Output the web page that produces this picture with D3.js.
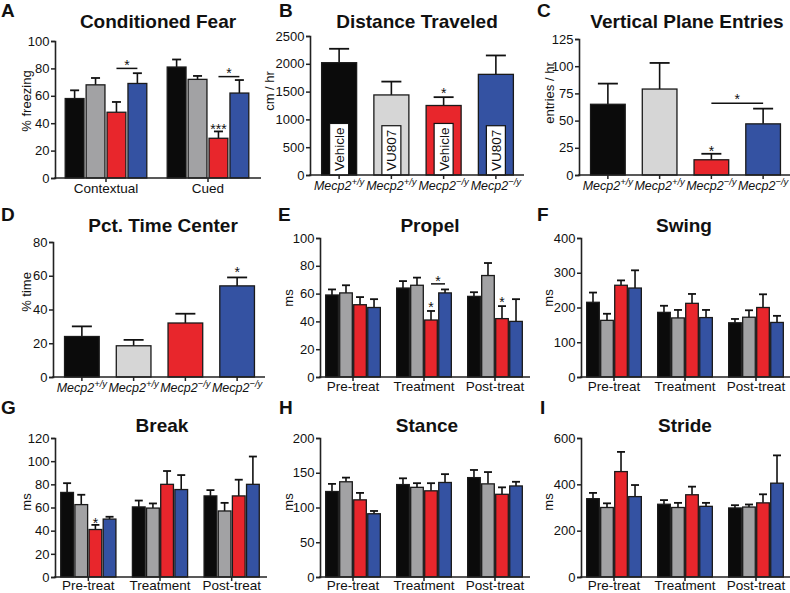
<!DOCTYPE html>
<html><head><meta charset="utf-8">
<script src="https://cdn.jsdelivr.net/npm/d3@7"></script>
<style>body{margin:0;background:#fff} text{font-family:"Liberation Sans",Arial,sans-serif;fill:#111}</style>
</head><body><svg id="c" width="790" height="593"></svg>
<script>
// ---------------- DATA ----------------
const fearGroups = ["Contextual","Cued"];
const fearMean = [[58,68,48,69],[81,72,29,62]];
const fearErr  = [[6,5,7.5,7.5],[5.5,2.5,5,9.5]];
const fearTicks = [0,20,40,60,80,100];

const genotypes = ["+/y","+/y","-/y","-/y"];
const treatments = ["Vehicle","VU807","Vehicle","VU807"];
const distMean = [2020,1440,1250,1810];
const distErr  = [250,240,150,340];
const distTicks = [0,500,1000,1500,2000,2500];
const vertMean = [65,79,14,47];
const vertErr  = [19,24,5.5,14];
const vertTicks = [0,25,50,75,100,125];
const centerMean = [24,18.5,32,54];
const centerErr  = [6,3.5,5.5,5];
const centerTicks = [0,20,40,60,80];

const phases = ["Pre-treat","Treatment","Post-treat"];
const propelMean = [[59,60.5,52,50],[64,66,41,60.5],[58,73,42,40]];
const propelErr  = [[4,5.5,5.5,6],[5,5.5,6.5,2.5],[3,9,9,16]];
const propelTicks = [0,20,40,60,80,100];
const swingMean = [[215,163,264,256],[186,170,212,171],[156,172,200,157]];
const swingErr  = [[28,19,14,51],[19,23,27,22],[11,20,38,19]];
const swingTicks = [0,100,200,300,400];
const breakMean = [[73,62.5,41,50],[60.5,59.5,80,75.5],[70,57,70,80]];
const breakErr  = [[8,8.5,4,2],[5.5,4,11.5,12.5],[5,7,14,24]];
const breakTicks = [0,20,40,60,80,100,120];
const stanceMean = [[123,137,111,91],[133,129,124,136],[143,134,119,131]];
const stanceErr  = [[11,6,10,4],[9,6,11,12],[11,17,10,6]];
const stanceTicks = [0,50,100,150,200];
const strideMean = [[338,300,455,347],[314,300,355,305],[298,302,320,405]];
const strideErr  = [[25,18,85,50],[18,20,35,15],[12,11,37,120]];
const strideTicks = [0,200,400,600];

// significance marks
const fearStars = [[1,2,38,"***"]];
const fearBrackets = [[0,2,3,80,"*"],[1,2,3,74,"*"]];
const distStars = [[2,1530,"*"]];
const vertStars = [[2,25,"*"]];
const vertBrackets = [[2,3,66,"*"]];
const centerStars = [[3,64,"*"]];
const propelStars = [[1,2,52,"*"],[2,2,56,"*"]];
const propelBrackets = [[1,2,3,67,"*"]];
const breakStars = [[0,2,49,"*"]];

// ---------------- STYLE ----------------
const colGrouped = ["#0b0b0b","#a2a2a4","#e8262c","#3452a2"];
const colSingle  = ["#0b0b0b","#d6d6d6","#e8262c","#3452a2"];
const svg = d3.select("#c");

function yAxis(g, y, ticks, x0){
  const ax = g.append("g").attr("transform",`translate(${x0},0)`)
    .call(d3.axisLeft(y).tickValues(ticks).tickSize(4).tickPadding(1.5).tickFormat(d3.format("d")));
  ax.select(".domain").attr("stroke","#222").attr("stroke-width",1.6);
  ax.selectAll(".tick line").attr("stroke","#222").attr("stroke-width",1.5);
  ax.selectAll(".tick text").attr("font-size",13).attr("fill","#222")
    .style("font-family",'"Liberation Sans",Arial,sans-serif');
}
function xLine(g, x0, x1, yb){
  g.append("line").attr("x1",x0-0.8).attr("x2",x1).attr("y1",yb).attr("y2",yb)
    .attr("stroke","#222").attr("stroke-width",1.6);
}
function texts(g, cfg){
  g.append("text").attr("x",cfg.letter[0]).attr("y",cfg.letter[1]).text(cfg.letterText)
    .attr("font-size",19).attr("font-weight","bold");
  g.append("text").attr("x",cfg.title[0]).attr("y",cfg.title[1]).attr("text-anchor","middle")
    .text(cfg.titleText).attr("font-size",19).attr("font-weight","bold");
  g.append("text").attr("transform",`translate(${cfg.ylab[0]},${cfg.ylab[1]}) rotate(-90)`)
    .attr("text-anchor","middle").attr("dominant-baseline","central")
    .text(cfg.ylabText).attr("font-size",13);
}
function bar(g, x, w, y, v, e, col, capW){
  g.append("line").attr("x1",x+w/2).attr("x2",x+w/2).attr("y1",y(v)).attr("y2",y(v+e))
    .attr("stroke","#111").attr("stroke-width",1.6);
  g.append("line").attr("x1",x+w/2-capW/2).attr("x2",x+w/2+capW/2).attr("y1",y(v+e)).attr("y2",y(v+e))
    .attr("stroke","#111").attr("stroke-width",1.8);
  g.append("rect").attr("x",x).attr("y",y(v)).attr("width",w).attr("height",y(0)-y(v))
    .attr("fill",col).attr("stroke","#1a1a1a").attr("stroke-width",1.3);
}
function star(g, x, yy, label, fs){
  g.append("text").attr("x",x).attr("y",yy+0.55*fs).attr("text-anchor","middle")
    .attr("font-size",fs).text(label);
}

function grouped(cfg, groups, means, errs, ticks, stars, brackets){
  const g = svg.append("g");
  const y = d3.scaleLinear().domain([0,ticks[ticks.length-1]]).range([cfg.yb,cfg.yt]);
  const x0 = d3.scaleBand().domain(groups).range([cfg.xl,cfg.xr]).paddingInner(cfg.pi).paddingOuter(cfg.po);
  const x1 = d3.scaleBand().domain([0,1,2,3]).range([0,x0.bandwidth()]).paddingInner(0.1);
  groups.forEach((gr,i)=>{
    means[i].forEach((m,j)=>{
      bar(g, x0(gr)+x1(j), x1.bandwidth(), y, m, errs[i][j], colGrouped[j], cfg.cap);
    });
    g.append("text").attr("x",x0(gr)+x0.bandwidth()/2).attr("y",cfg.yb+cfg.lab)
      .attr("text-anchor","middle").attr("font-size",13.5).text(gr);
    g.append("line").attr("x1",x0(gr)+x0.bandwidth()/2).attr("x2",x0(gr)+x0.bandwidth()/2)
      .attr("y1",cfg.yb).attr("y2",cfg.yb+4).attr("stroke","#222").attr("stroke-width",1.5);
  });
  xLine(g, cfg.xl, cfg.xr+2, cfg.yb);
  yAxis(g, y, ticks, cfg.xl);
  (stars||[]).forEach(([gi,bi,v,l])=>{
    star(g, x0(groups[gi])+x1(bi)+x1.bandwidth()/2, y(v), l, 14);
  });
  (brackets||[]).forEach(([gi,a,b,v,l])=>{
    const xa = x0(groups[gi])+x1(a)+x1.bandwidth()/2, xb = x0(groups[gi])+x1(b)+x1.bandwidth()/2;
    g.append("line").attr("x1",xa).attr("x2",xb).attr("y1",y(v)).attr("y2",y(v)).attr("stroke","#111").attr("stroke-width",1.5);
    star(g, (xa+xb)/2, y(v)-6, l, 14);
  });
  texts(g, cfg);
}

function single(cfg, means, errs, ticks, stars, brackets, inner){
  const g = svg.append("g");
  const y = d3.scaleLinear().domain([0,ticks[ticks.length-1]]).range([cfg.yb,cfg.yt]);
  const x = d3.scaleBand().domain([0,1,2,3]).range([cfg.xl+3,cfg.xr]).paddingInner(0.33).paddingOuter(0.165);
  means.forEach((m,j)=>{
    bar(g, x(j), x.bandwidth(), y, m, errs[j], colSingle[j], 20);
    const cx = x(j)+x.bandwidth()/2;
    g.append("line").attr("x1",cx).attr("x2",cx).attr("y1",cfg.yb).attr("y2",cfg.yb+4)
      .attr("stroke","#222").attr("stroke-width",1.5);
    const t = g.append("text").attr("x",cx).attr("y",cfg.yb+15).attr("text-anchor","middle")
      .attr("font-size",12.5).attr("font-style","italic");
    t.append("tspan").text("Mecp2");
    t.append("tspan").attr("dy",-5).attr("font-size",9.5).text(genotypes[j].replace("-","\u2212"));
    if(inner){
      const lab = g.append("g");
      const tx = lab.append("text").attr("font-size",13.5).text(inner[j])
        .attr("transform",`translate(${cx+5},${cfg.yb-4}) rotate(-90)`);
      const len = tx.node().getComputedTextLength();
      lab.insert("rect","text").attr("x",cx-9.5).attr("y",cfg.yb-len-8).attr("width",19)
        .attr("height",len+8).attr("fill","#fff").attr("stroke","#111").attr("stroke-width",1.2);
    }
  });
  xLine(g, cfg.xl, cfg.xr+2, cfg.yb);
  yAxis(g, y, ticks, cfg.xl);
  (stars||[]).forEach(([bi,v,l])=> star(g, x(bi)+x.bandwidth()/2, y(v), l, 14));
  (brackets||[]).forEach(([a,b,v,l])=>{
    const xa = x(a)+x.bandwidth()/2, xb = x(b)+x.bandwidth()/2;
    g.append("line").attr("x1",xa).attr("x2",xb).attr("y1",y(v)).attr("y2",y(v)).attr("stroke","#111").attr("stroke-width",1.5);
    star(g, (xa+xb)/2, y(v)-7, l, 14);
  });
  texts(g, cfg);
}

// ---------------- PANELS ----------------
grouped({xl:55,xr:259,yb:178,yt:41,pi:0.2,po:0.1,cap:9,lab:15,letterText:"A",letter:[1,17],
  titleText:"Conditioned Fear",title:[158,28],ylabText:"% freezing",ylab:[26,101]},
  fearGroups, fearMean, fearErr, fearTicks, fearStars, fearBrackets);
single({xl:310,xr:522,yb:175,yt:36,letterText:"B",letter:[279,17],
  titleText:"Distance Traveled",title:[417,28],ylabText:"cm / hr",ylab:[269,91]},
  distMean, distErr, distTicks, distStars, null, treatments);
single({xl:579,xr:789,yb:175,yt:39,letterText:"C",letter:[537,17],
  titleText:"Vertical Plane Entries",title:[687,28],ylabText:"entries / hr",ylab:[549,93]},
  vertMean, vertErr, vertTicks, vertStars, vertBrackets, null);
single({xl:53,xr:263,yb:377,yt:242,letterText:"D",letter:[1,221],
  titleText:"Pct. Time Center",title:[163,232],ylabText:"% time",ylab:[26,292]},
  centerMean, centerErr, centerTicks, centerStars, null, null);
grouped({xl:320,xr:528,yb:377,yt:238,pi:0.23,po:0.08,cap:8,lab:13.5,letterText:"E",letter:[278,221],
  titleText:"Propel",title:[430,232],ylabText:"ms",ylab:[288,298]},
  phases, propelMean, propelErr, propelTicks, propelStars, propelBrackets);
grouped({xl:581,xr:789,yb:377,yt:238,pi:0.23,po:0.08,cap:8,lab:13.5,letterText:"F",letter:[537,221],
  titleText:"Swing",title:[684,232],ylabText:"ms",ylab:[548,298]},
  phases, swingMean, swingErr, swingTicks, null, null);
grouped({xl:55,xr:265,yb:577,yt:438,pi:0.23,po:0.08,cap:8,lab:12.5,letterText:"G",letter:[1,414],
  titleText:"Break",title:[162,432],ylabText:"ms",ylab:[26,502]},
  phases, breakMean, breakErr, breakTicks, breakStars, null);
grouped({xl:320,xr:528,yb:577,yt:438,pi:0.23,po:0.08,cap:8,lab:12.5,letterText:"H",letter:[279,414],
  titleText:"Stance",title:[427,432],ylabText:"ms",ylab:[288,502]},
  phases, stanceMean, stanceErr, stanceTicks, null, null);
grouped({xl:581,xr:789,yb:577,yt:438,pi:0.23,po:0.08,cap:8,lab:12.5,letterText:"I",letter:[540,414],
  titleText:"Stride",title:[685,432],ylabText:"ms",ylab:[548,502]},
  phases, strideMean, strideErr, strideTicks, null, null);
</script></body></html>
